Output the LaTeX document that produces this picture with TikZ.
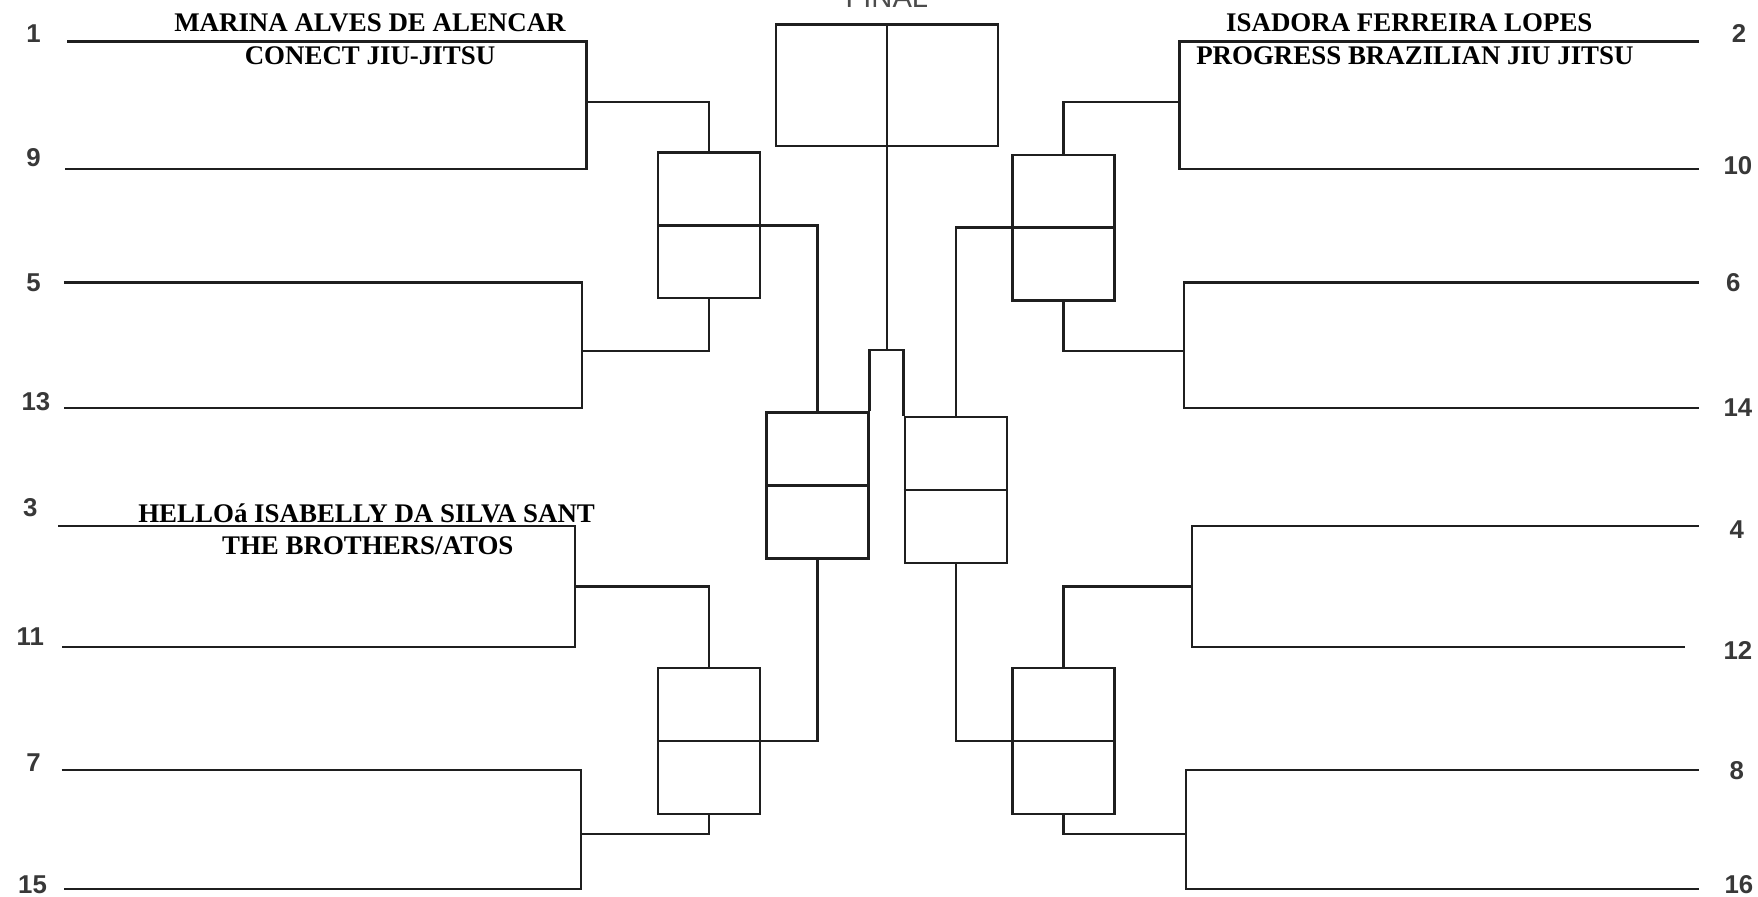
\documentclass[tikz,border=0pt]{standalone}
\usepackage{fontspec}
\setmainfont{Liberation Serif}
\newfontfamily\numfont{Liberation Sans}
\begin{document}
\begin{tikzpicture}[x=1pt,y=-1pt,
  ln/.style={line width=2.1pt, draw=black!88},
  mbox/.style={rectangle, ln, minimum width=91pt, minimum height=130pt, inner sep=0pt},
  seed/.style={font=\numfont\bfseries\fontsize{23}{24}\selectfont, text=black!78, inner sep=0pt},
  pname/.style={font=\bfseries\fontsize{24}{25}\selectfont, inner sep=0pt}]
\useasboundingbox (0,0) rectangle (1568,800);

% match boxes
\node[mbox] (qa) at (632.5,201) {};
\node[mbox] (qd) at (632.5,661) {};
\node[mbox] (sc) at (729,433) {};
\node[mbox] (se) at (852.5,437) {};
\node[mbox] (qb) at (948.5,203) {};
\node[mbox] (qf) at (948.5,661) {};
\node[rectangle, ln, minimum width=198pt, minimum height=108pt, inner sep=0pt] (fin) at (791,76) {};
\node[font=\numfont\fontsize{26}{28}\selectfont, text=black!70, anchor=base, inner sep=0pt] (ftitle) at (791,7) {FINAL};

% dividers
\foreach \b in {qa,qd,sc,se,qb,qf} \draw[ln] (\b.west) -- (\b.east);

% final stem and small box
\coordinate (st) at (791,312);
\draw[ln] (fin.north) -- (st);
\draw[ln] (sc.north east) |- (st) -| (se.north west);

% semifinal connectors
\draw[ln] (qa.east) -| (sc.north);
\draw[ln] (qd.east) -| (sc.south);
\draw[ln] (qb.west) -| (se.north);
\draw[ln] (qf.west) -| (se.south);

% left first-round brackets
\coordinate (a1) at (60,37);  \coordinate (b1) at (523,37);
\coordinate (a9) at (58,151); \coordinate (b9) at (523,151);
\coordinate (j19) at (523,91);
\draw[ln] (a1) -- (b1) -- (b9) -- (a9);
\draw[ln] (j19) -| (qa.north);

\coordinate (a5) at (57,252);  \coordinate (b5) at (519,252);
\coordinate (a13) at (57,364); \coordinate (b13) at (519,364);
\coordinate (j513) at (519,313);
\draw[ln] (a5) -- (b5) -- (b13) -- (a13);
\draw[ln] (j513) -| (qa.south);

\coordinate (a3) at (52,469);  \coordinate (b3) at (513,469);
\coordinate (a11) at (55,577); \coordinate (b11) at (513,577);
\coordinate (j311) at (513,523);
\draw[ln] (a3) -- (b3) -- (b11) -- (a11);
\draw[ln] (j311) -| (qd.north);

\coordinate (a7) at (55,687);  \coordinate (b7) at (518,687);
\coordinate (a15) at (57,793); \coordinate (b15) at (518,793);
\coordinate (j715) at (518,744);
\draw[ln] (a7) -- (b7) -- (b15) -- (a15);
\draw[ln] (j715) -| (qd.south);

% right first-round brackets
\coordinate (a2) at (1515,37);  \coordinate (b2) at (1052,37);
\coordinate (a10) at (1515,151); \coordinate (b10) at (1052,151);
\coordinate (j210) at (1052,91);
\draw[ln] (a2) -- (b2) -- (b10) -- (a10);
\draw[ln] (j210) -| (qb.north);

\coordinate (a6) at (1515,252);  \coordinate (b6) at (1056,252);
\coordinate (a14) at (1515,364); \coordinate (b14) at (1056,364);
\coordinate (j614) at (1056,313);
\draw[ln] (a6) -- (b6) -- (b14) -- (a14);
\draw[ln] (j614) -| (qb.south);

\coordinate (a4) at (1515,469);  \coordinate (b4) at (1063,469);
\coordinate (a12) at (1503,577); \coordinate (b12) at (1063,577);
\coordinate (j412) at (1063,523);
\draw[ln] (a4) -- (b4) -- (b12) -- (a12);
\draw[ln] (j412) -| (qf.north);

\coordinate (a8) at (1515,687);  \coordinate (b8) at (1058,687);
\coordinate (a16) at (1515,793); \coordinate (b16) at (1058,793);
\coordinate (j816) at (1058,744);
\draw[ln] (a8) -- (b8) -- (b16) -- (a16);
\draw[ln] (j816) -| (qf.south);

% seed numbers
\node[seed] (l1) at (30,30) {1};
\node[seed] (l9) at (30,141) {9};
\node[seed] (l5) at (30,252) {5};
\node[seed] (l13) at (32,358) {13};
\node[seed] (l3) at (27,453) {3};
\node[seed] (l11) at (27,568) {11};
\node[seed] (l7) at (30,680) {7};
\node[seed] (l15) at (29,789) {15};
\node[seed] (l2) at (1551,30) {2};
\node[seed] (l10) at (1550,148) {10};
\node[seed] (l6) at (1546,252) {6};
\node[seed] (l14) at (1550,364) {14};
\node[seed] (l4) at (1549,472) {4};
\node[seed] (l12) at (1550,580) {12};
\node[seed] (l8) at (1549,687) {8};
\node[seed] (l16) at (1551,789) {16};

% names
\node[pname] (n1) at (330,20) {MARINA ALVES DE ALENCAR};
\node[pname] (c1) at (330,50) {CONECT JIU-JITSU};
\node[pname] (n2) at (1257,20) {ISADORA FERREIRA LOPES};
\node[pname] (c2) at (1262,50) {PROGRESS BRAZILIAN JIU JITSU};
\node[pname] (n3) at (327,458) {HELLOá ISABELLY DA SILVA SANT};
\node[pname] (c3) at (328,487) {THE BROTHERS/ATOS};
\end{tikzpicture}
\end{document}
